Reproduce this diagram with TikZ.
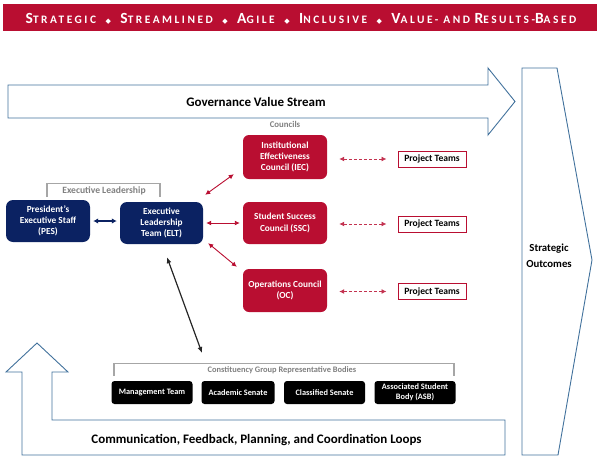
\documentclass[tikz,border=0pt]{standalone}
\usepackage{fontspec}
\setmainfont{Carlito}
\newfontfamily\bannerfont[LetterSpace=22]{Carlito}
\newfontfamily\symfont{DejaVu Sans}
\usetikzlibrary{arrows.meta}
\definecolor{crim}{HTML}{B90E31}
\definecolor{navy}{HTML}{0B2262}
\definecolor{outl}{HTML}{41719C}
\definecolor{brk}{HTML}{A6A6A6}
\definecolor{gtxt}{HTML}{7F7F7F}
\definecolor{darkarr}{HTML}{262626}
\newcommand\bigsm[2]{{\fontsize{15.5}{15}\selectfont #1}{\fontsize{11.4}{12}\selectfont #2}}
\newcommand\dia{\hspace{0.95em}{\symfont\fontsize{7}{6}\selectfont ◆}\hspace{0.95em}}
\tikzset{
  council/.style={fill=crim, rounded corners=6pt, minimum width=84pt, minimum height=43pt, inner sep=0pt,
    text=white, align=center, font=\fontsize{9.3}{11.2}\selectfont\bfseries},
  navybox/.style={fill=navy, rounded corners=7pt, minimum width=84pt, minimum height=42pt, inner sep=0pt,
    text=white, align=center, font=\fontsize{9.3}{11.2}\selectfont\bfseries},
  projbox/.style={draw=crim, line width=1pt, fill=white, minimum width=68pt, minimum height=16pt, inner sep=0pt,
    text=black, font=\fontsize{9.6}{10}\selectfont\bfseries},
  cgbox/.style={fill=black, rounded corners=3pt, minimum height=23pt, inner sep=0pt,
    text=white, align=center, font=\fontsize{8.3}{9.6}\selectfont\bfseries},
  outline/.style={draw=outl, line width=0.9pt, line join=miter},
  bracket/.style={draw=brk, line width=1.2pt},
  graylbl/.style={text=gtxt, font=\fontsize{8.4}{9}\selectfont\bfseries, inner sep=0pt},
  redarr/.style={draw=crim, line width=0.9pt, {Latex[length=5pt,width=5pt]}-{Latex[length=5pt,width=5pt]}},
  dasharr/.style={draw=crim!85, line width=0.9pt, dash pattern=on 3pt off 2pt, {Latex[length=5pt,width=5pt]}-{Latex[length=5pt,width=5pt]}},
  navarr/.style={draw=navy, line width=1.3pt, {Latex[length=5pt,width=5.5pt]}-{Latex[length=5pt,width=5.5pt]}},
  blkarr/.style={draw=darkarr, line width=1.2pt, {Latex[length=6pt,width=5pt]}-{Latex[length=6pt,width=5pt]}},
}
\begin{document}
\begin{tikzpicture}[x=1pt,y=-1pt]
\useasboundingbox (0,0) rectangle (600,461);
% banner
\node[fill=crim, minimum width=594pt, minimum height=27pt, inner sep=0pt, anchor=north west] (banner) at (3,4) {};
\node[text=white, inner sep=0pt] (bannertxt) at (301,18.5) {\bannerfont\bfseries
  \bigsm{S}{TRATEGIC}\dia\bigsm{S}{TREAMLINED}\dia\bigsm{A}{GILE}\dia\bigsm{I}{NCLUSIVE}\dia\bigsm{V}{ALUE- AND} \bigsm{R}{ESULTS-}\bigsm{B}{ASED}};
% governance value stream arrow
\draw[outline] (8,85) -- (488,85) -- (488,68) -- (515,101.5) -- (488,135) -- (488,118) -- (8,118) -- cycle;
\node[font=\fontsize{13}{14}\selectfont\bfseries] (gvs) at (256,101.5) {Governance Value Stream};
% strategic outcomes chevron
\draw[outline] (522,68) -- (557,68) -- (592,260) -- (558,455) -- (522,455) -- cycle;
\node[align=center, font=\fontsize{10.8}{16}\selectfont\bfseries] (so) at (549,256) {Strategic\\Outcomes};
% feedback loop arrow
\draw[outline] (37,343) -- (68,372) -- (52,372) -- (52,420) -- (505,420) -- (505,455) -- (22,455) -- (22,372) -- (6,372) -- cycle;
\node[font=\fontsize{13}{14}\selectfont\bfseries] (loops) at (256.5,440) {Communication, Feedback, Planning, and Coordination Loops};
% councils
\node[graylbl, font=\fontsize{8.8}{9}\selectfont\bfseries] (councils) at (285,124.5) {Councils};
\node[council, minimum height=44pt] (iec) at (285,157) {Institutional\\Effectiveness\\Council (IEC)};
\node[council, minimum height=42pt] (ssc) at (285,223) {Student Success\\Council (SSC)};
\node[council] (oc) at (285,290.5) {Operations Council\\(OC)};
\node[projbox] (pt1) at (432,159) {Project Teams};
\node[projbox] (pt2) at (432,224) {Project Teams};
\node[projbox] (pt3) at (432,291.5) {Project Teams};
\draw[dasharr] ([xshift=12]iec.east |- pt1.west) -- ([xshift=-11]pt1.west);
\draw[dasharr] ([xshift=12]ssc.east |- pt2.west) -- ([xshift=-11]pt2.west);
\draw[dasharr] ([xshift=12]oc.east |- pt3.west) -- ([xshift=-11]pt3.west);
% executive leadership
\draw[bracket] (47,197) -- (47,183.5) -- (160,183.5) -- (160,197);
\node[graylbl, font=\fontsize{9.6}{10}\selectfont\bfseries] (exlbl) at (104,190.5) {Executive Leadership};
\node[navybox] (pes) at (48,221) {President’s\\Executive Staff\\(PES)};
\node[navybox, minimum width=83pt] (elt) at (161.5,223) {Executive\\Leadership\\Team (ELT)};
\draw[navarr] ([xshift=3]pes.east) -- ([xshift=-3]elt.west |- pes.east);
\draw[redarr] ([shift={(2,-7)}]elt.north east) -- ([shift={(-9,-5)}]iec.south west);
\draw[redarr] ([xshift=3]elt.east) -- ([xshift=-3]ssc.west);
\draw[redarr] ([shift={(5,-1)}]elt.south east) -- ([shift={(-6,-2)}]oc.north west);
% constituency groups
\draw[bracket] (114,376) -- (114,363.5) -- (454,363.5) -- (454,376);
\node[graylbl] (cglbl) at (282,370) {Constituency Group Representative Bodies};
\node[cgbox, minimum width=81pt] (mt) at (152,392.5) {Management Team};
\node[cgbox, minimum width=73pt] (as) at (238,392.5) {Academic Senate};
\node[cgbox, minimum width=81pt] (cs) at (324.5,392.5) {Classified Senate};
\node[cgbox, minimum width=81pt] (asb) at (415,392.5) {Associated Student\\Body (ASB)};
\coordinate (cgtop) at (202,353);
\draw[blkarr] ([shift={(5.5,13)}]elt.south) -- (cgtop);
\end{tikzpicture}
\end{document}
